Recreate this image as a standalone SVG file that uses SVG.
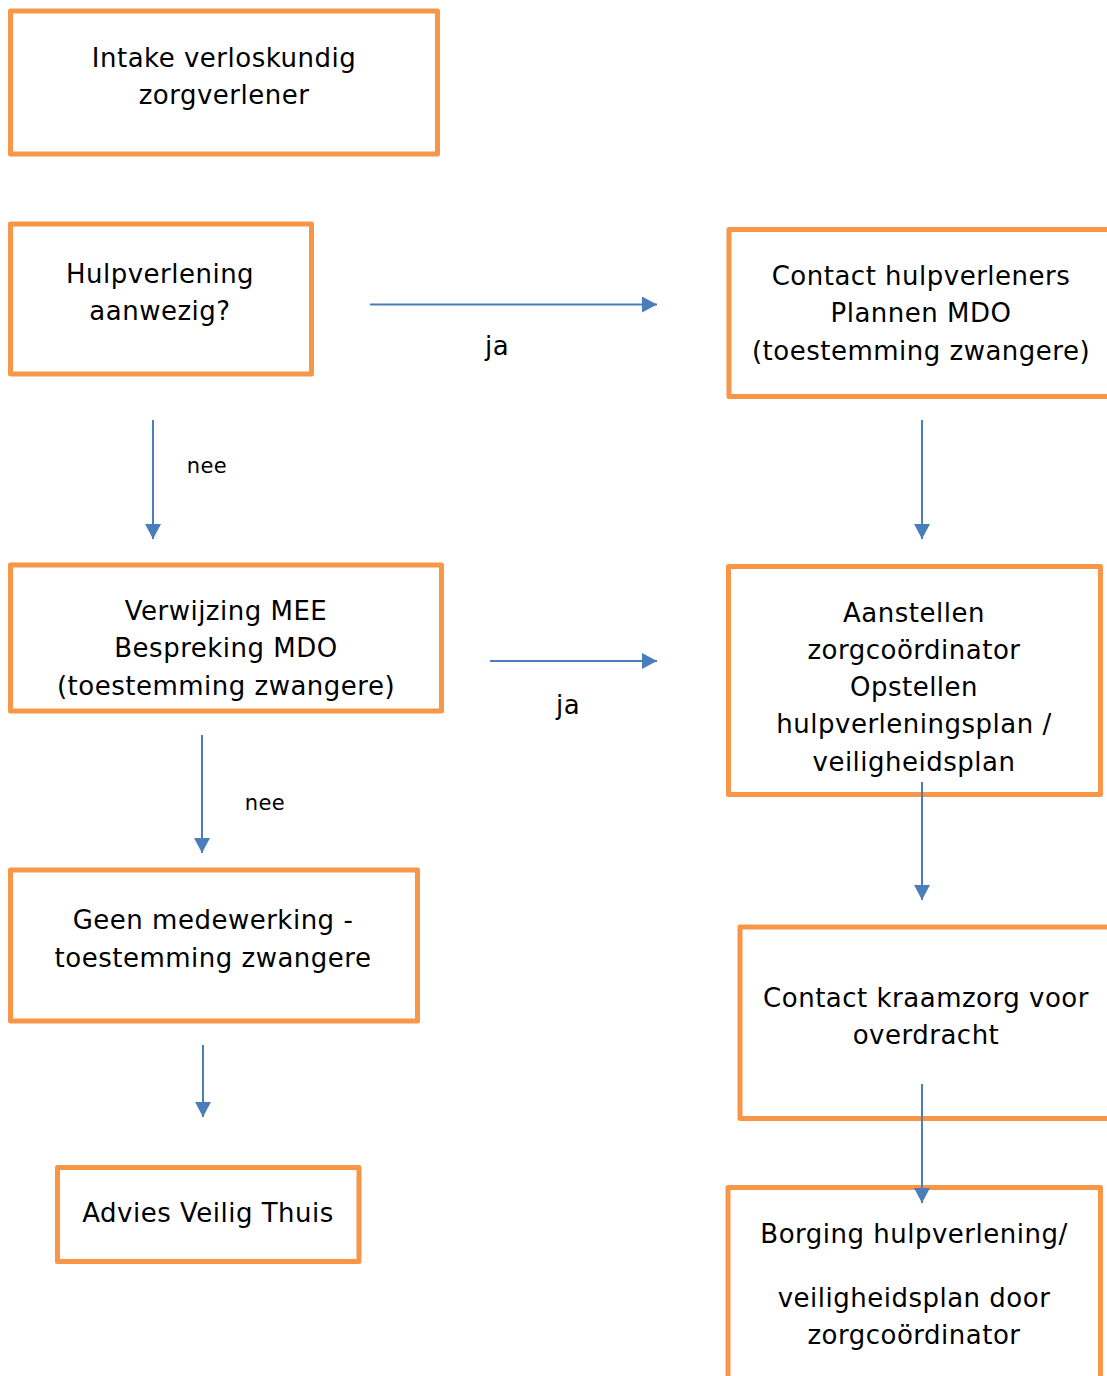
<svg xmlns="http://www.w3.org/2000/svg" width="1107" height="1376" viewBox="0 0 1107 1376">
<style>
.box{fill:#fff;stroke:#F79646;stroke-width:5;stroke-linejoin:round}
.t{font-family:"DejaVu Sans",Verdana,sans-serif;font-size:26px;fill:#000;text-anchor:middle;letter-spacing:0.5px}
.lbl{font-family:"DejaVu Sans",Verdana,sans-serif;font-size:21px;fill:#000;text-anchor:middle;letter-spacing:0.4px}
.c{stroke:#4A7EBB;stroke-width:2;fill:none;marker-end:url(#ah)}
</style>
<defs>
<marker id="ah" markerUnits="userSpaceOnUse" markerWidth="16" markerHeight="16" refX="15" refY="8" orient="auto">
<path d="M0,0 L15,8 L0,16 z" fill="#4A7EBB"/>
</marker>
</defs>
<rect width="1107" height="1376" fill="#fff"/>
<g id="n1"><rect class="box" x="10.5" y="11" width="427" height="143"/>
<text class="t" x="224" y="67">Intake verloskundig</text><text class="t" x="224" y="104">zorgverlener</text></g>
<g id="n2"><rect class="box" x="10.5" y="224" width="301" height="150"/>
<text class="t" x="160" y="283">Hulpverlening</text><text class="t" x="160" y="320">aanwezig?</text></g>
<g id="n3"><rect class="box" x="729" y="229.5" width="400" height="167"/>
<text class="t" x="921" y="285">Contact hulpverleners</text><text class="t" x="921" y="322">Plannen MDO</text><text class="t" x="921" y="360">(toestemming zwangere)</text></g>
<g id="n4"><rect class="box" x="10.5" y="565" width="431" height="146"/>
<text class="t" x="226" y="620">Verwijzing MEE</text><text class="t" x="226" y="657">Bespreking MDO</text><text class="t" x="226" y="695">(toestemming zwangere)</text></g>
<g id="n5"><rect class="box" x="728.5" y="566.5" width="372" height="228"/>
<text class="t" x="914" y="622">Aanstellen</text><text class="t" x="914" y="659">zorgcoördinator</text><text class="t" x="914" y="696">Opstellen</text><text class="t" x="914" y="733">hulpverleningsplan /</text><text class="t" x="914" y="771">veiligheidsplan</text></g>
<g id="n6"><rect class="box" x="740" y="927" width="400" height="191.5"/>
<text class="t" x="926" y="1007">Contact kraamzorg voor</text><text class="t" x="926" y="1044">overdracht</text></g>
<g id="n7"><rect class="box" x="728" y="1187.5" width="372.5" height="220"/>
<text class="t" x="914" y="1243">Borging hulpverlening/</text><text class="t" x="914" y="1307">veiligheidsplan door</text><text class="t" x="914" y="1344">zorgcoördinator</text></g>
<g id="n8"><rect class="box" x="10.5" y="870" width="407" height="151"/>
<text class="t" x="213" y="929">Geen medewerking -</text><text class="t" x="213" y="967">toestemming zwangere</text></g>
<g id="n9"><rect class="box" x="57.5" y="1167.5" width="301.5" height="94"/>
<text class="t" x="208" y="1222">Advies Veilig Thuis</text></g>
<g id="connectors">
<line class="c" x1="370" y1="304.5" x2="657" y2="304.5"/>
<line class="c" x1="153" y1="420" x2="153" y2="539"/>
<line class="c" x1="490" y1="661" x2="657" y2="661"/>
<line class="c" x1="922" y1="420" x2="922" y2="539"/>
<line class="c" x1="922" y1="782" x2="922" y2="900"/>
<line class="c" x1="202" y1="735" x2="202" y2="853"/>
<line class="c" x1="922" y1="1084" x2="922" y2="1203"/>
<line class="c" x1="203" y1="1045" x2="203" y2="1117"/>
<text class="t" x="497" y="355">ja</text>
<text class="t" x="568" y="714">ja</text>
<text class="lbl" x="207" y="473">nee</text>
<text class="lbl" x="265" y="810">nee</text>
</g>
</svg>
